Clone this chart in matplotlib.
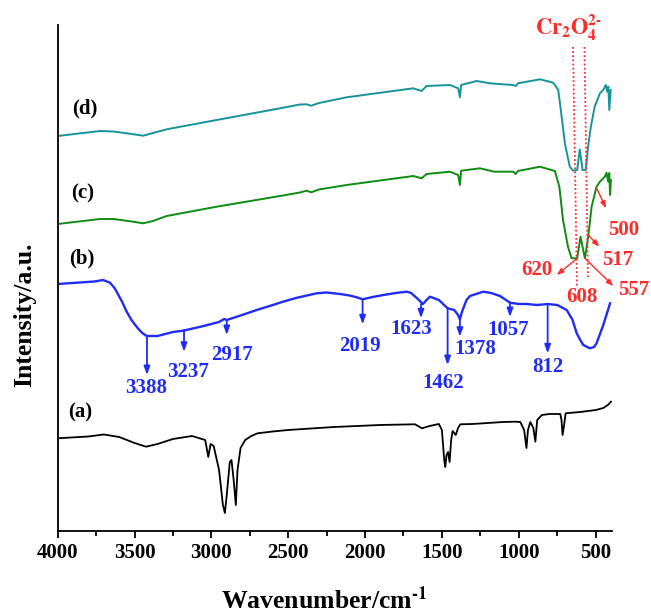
import matplotlib
matplotlib.use('Agg')
import matplotlib.pyplot as plt
import numpy as np
from matplotlib.ticker import MultipleLocator

plt.rcParams['font.family'] = ['Liberation Serif', 'DejaVu Serif']
plt.rcParams['font.weight'] = 'bold'
plt.rcParams['mathtext.fontset'] = 'stix'

# spectra, wavenumber (cm-1) and stacked intensity (a.u.)
wn_a = [4000, 3800, 3700, 3600, 3500, 3425, 3350, 3250, 3126, 3040, 3020, 3005, 2985, 2950, 2925,
        2912, 2900, 2880, 2869, 2855, 2841, 2830, 2810, 2780, 2740, 2699, 2600, 2500, 2200, 1900,
        1675, 1630, 1580, 1520, 1500, 1485, 1478, 1470, 1460, 1450, 1440, 1430, 1410, 1395, 1380,
        1300, 1200, 1100, 1025, 990, 965, 950, 940, 925, 905, 892, 880, 849, 800, 730, 722,
        715, 705, 695, 600, 498, 450, 420, 400]
int_a = [92.7, 94.5, 96.5, 94, 88, 84.3, 87, 92, 95, 91, 74, 87, 85, 61, 26,
         18, 36, 69, 71, 51, 26, 61, 83, 91, 95, 97.7, 99.5, 101, 104, 106,
         106.7, 102.7, 105, 107, 101, 71, 64, 76, 79, 69, 91, 100, 96, 103, 106.7,
         107, 108, 109, 109.3, 109, 101, 83, 101, 109, 103, 89.3, 111, 116, 117, 117, 111,
         96, 106, 117.7, 119, 121, 123, 126, 129.3]

wn_b = [4000, 3760, 3705, 3660, 3630, 3580, 3551, 3520, 3480, 3450, 3421, 3350, 3250, 3183, 3050,
        2950, 2917, 2900, 2800, 2705, 2600, 2534, 2450, 2315, 2250, 2163, 2100, 2050, 2016, 1950,
        1881, 1800, 1729, 1700, 1686, 1660, 1623, 1600, 1578, 1520, 1463, 1420, 1395, 1383, 1370,
        1340, 1317, 1231, 1180, 1122, 1057, 1000, 949, 880, 812, 750, 688, 650, 623, 600,
        580, 537, 510, 494, 450, 406]
int_b = [247, 249.5, 251, 248.3, 243, 229, 219.3, 211, 203, 198, 195, 195, 199, 200.3, 205,
         209, 212, 211, 216, 221, 226, 229.3, 233, 237.7, 238.5, 237, 235.5, 233.5, 231.7, 234,
         236, 238, 239.3, 238, 236, 232.5, 227, 231, 234.3, 231, 222.7, 221, 216, 211.7, 219,
         231, 235, 239.3, 238, 235, 228.3, 227, 227, 226, 227, 226, 221, 211, 197.7, 191,
         186, 182.7, 184, 187.7, 206, 227.7]

wn_c = [4000, 3725, 3638, 3540, 3443, 3380, 3291, 2966, 2553, 2424, 2380, 2350, 2300, 2120, 1686,
        1632, 1600, 1448, 1394, 1383, 1375, 1252, 1160, 1036, 1020, 1005, 862, 765, 736, 712,
        680, 656, 620, 598, 570, 548, 526, 494, 472, 440, 429, 418, 411, 406, 400]
int_c = [307, 312, 312, 310, 307.7, 310, 315, 324.3, 335, 338.5, 340.3, 338.7, 341.5, 346, 355,
         352.7, 357, 359.3, 356, 346, 360.3, 362.7, 359.3, 359.3, 357, 360, 364.3, 360, 344.3, 311,
         284.3, 272.7, 272.7, 294.3, 272.7, 294.3, 324.3, 344.3, 349.3, 354.3, 358.3, 349.3, 358, 336, 351]

wn_d = [4000, 3725, 3638, 3540, 3443, 3380, 3291, 2966, 2553, 2424, 2380, 2350, 2300, 2120, 1686,
        1632, 1600, 1448, 1394, 1383, 1375, 1274, 1187, 1130, 1036, 1020, 1005, 862, 775, 743,
        721, 700, 668, 646, 620, 603, 585, 564, 549, 531, 506, 472, 451, 433, 425, 417, 411, 402]
int_d = [395, 400, 399.5, 397.5, 395.3, 398, 401.7, 411, 422.7, 426.5, 426.7, 425.3, 428, 433.7, 442.7,
         440, 445, 446, 442.7, 433.7, 446, 450, 447.7, 447, 446, 445, 447.7, 451.7, 448.3, 441,
         414.3, 387.7, 364.3, 360.3, 361, 381.7, 361, 361, 384.3, 404.3, 424.3, 437.7, 441, 446,
         439.3, 444.3, 421, 441]

# blue peak marks: label, arrow x, arrow top, arrow tip, label x, label y
b_labels = ['3388', '3237', '2917', '2019', '1623', '1462', '1378', '1057', '812']
b_arrow_x = [3419, 3178, 2900, 2016, 1636, 1463, 1383, 1057, 812]
b_arrow_top = [195, 201, 211, 231.7, 227, 222.7, 212, 228.3, 227]
b_arrow_tip = [156, 179.3, 196, 206.7, 212.7, 166, 194.3, 214, 177.7]
b_label_x = [3426, 3152, 2868, 2033, 1697, 1493, 1285, 1070, 808]
b_label_y = [143, 158.7, 176, 185, 201.7, 147.7, 182, 201, 164.3]

# red marks on the chromate bands
r_labels = ['620', '608', '557', '517', '500']
r_label_x = [883, 591, 255, 353, 320]
r_label_y = [261, 234.3, 241, 271, 301]
r_arrow_from = [(619, 272.7), (569, 272.7), (548, 296), (493, 342.7)]
r_arrow_to = [(753, 256), (385, 245), (476, 284.3), (432, 322.7)]
r_dot_top = [(647, 484), (572.5, 484)]
r_dot_bot = [(621, 244), (550, 254)]

blue = '#1f2cf5'
red = '#ff2b2b'

fig = plt.figure(figsize=(6.51, 6.13), dpi=100)
ax = fig.add_axes([0.0886, 0.1338, 0.8511, 0.8254])

ax.plot(wn_a, int_a, color='black', lw=1.3)
ax.plot(wn_b, int_b, color=blue, lw=1.7)
ax.plot(wn_c, int_c, color='#0f8c12', lw=1.4)
ax.plot(wn_d, int_d, color='#17949a', lw=1.4)

for lab, x, y in zip(['(a)', '(b)', '(c)', '(d)'], [3855, 3844, 3835, 3826], [119, 273, 338, 423]):
    ax.text(x, y, lab, fontsize=15, ha='center', va='center')

for i in range(len(b_labels)):
    ax.annotate('', xy=(b_arrow_x[i], b_arrow_tip[i]), xytext=(b_arrow_x[i], b_arrow_top[i]),
                arrowprops=dict(arrowstyle='-|>,head_length=0.5,head_width=0.18', color=blue, lw=1.3,
                                shrinkA=0, shrinkB=0))
    ax.text(b_label_x[i], b_label_y[i], b_labels[i], color=blue, fontsize=15, ha='center', va='center')

for (x0, y0), (x1, y1) in zip(r_dot_top, r_dot_bot):
    ax.plot([x0, x1], [y0, y1], color=red, lw=1.3, ls=(0, (1.0, 1.3)))

for p0, p1 in zip(r_arrow_from, r_arrow_to):
    ax.annotate('', xy=p1, xytext=p0, annotation_clip=False,
                arrowprops=dict(arrowstyle='-|>,head_length=0.4,head_width=0.15', color=red, lw=1.0,
                                shrinkA=0, shrinkB=0))

for lab, x, y in zip(r_labels, r_label_x, r_label_y):
    ax.text(x, y, lab, color=red, fontsize=15, ha='center', va='center', clip_on=False)

ax.text(673, 503, r'$\mathrm{Cr_2O_4^{2\text{-}}}$', color=red, fontsize=16, ha='center', va='center')

ax.set_xlim(4000, 395)
ax.set_ylim(0, 506)
ax.xaxis.set_major_locator(MultipleLocator(500))
ax.xaxis.set_minor_locator(MultipleLocator(250))
ax.set_yticks([])
ax.spines['top'].set_visible(False)
ax.spines['right'].set_visible(False)
ax.spines['left'].set_linewidth(1.3)
ax.spines['bottom'].set_linewidth(1.3)
ax.tick_params(axis='x', which='major', direction='out', length=5, width=1.3, labelsize=15, pad=4)
ax.tick_params(axis='x', which='minor', direction='out', length=3.5, width=1.3)

ax.set_xlabel(r'Wavenumber/cm$^{\text{-1}}$', fontsize=18.5, fontweight='bold', va='center')
ax.xaxis.set_label_coords(0.482, -0.136)
ax.set_ylabel('Intensity/a.u.', fontsize=18.5, fontweight='bold', va='center')
ax.yaxis.set_label_coords(-0.06, 0.427)

plt.savefig('out.png', dpi=100)
